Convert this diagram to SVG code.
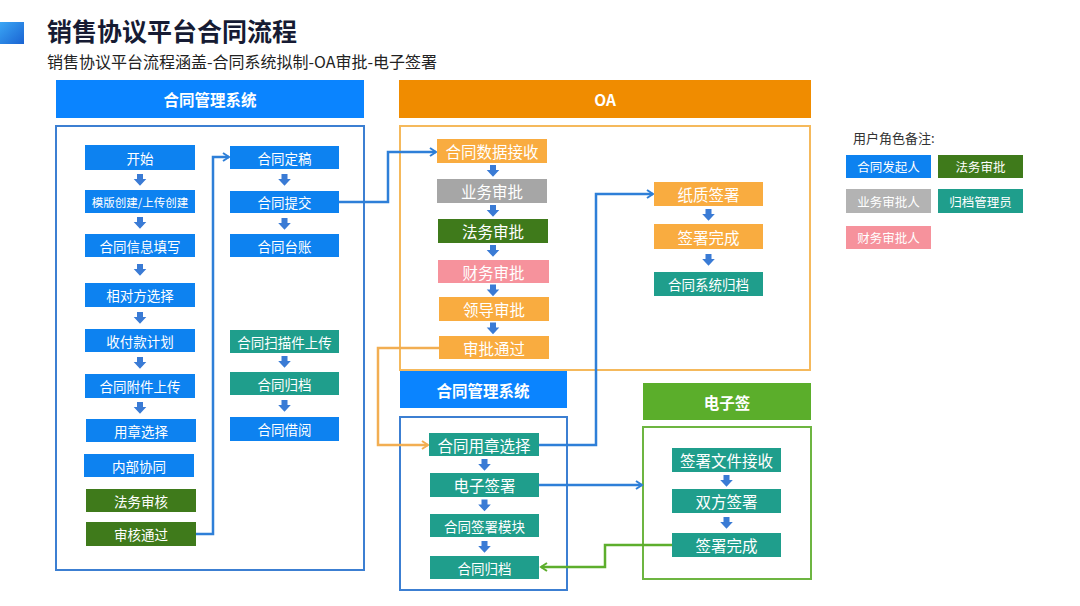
<svg xmlns="http://www.w3.org/2000/svg" width="1080" height="606" viewBox="0 0 1080 606">
<defs>
<linearGradient id="sq" x1="0" y1="0" x2="1" y2="1"><stop offset="0" stop-color="#3AA6F5"/><stop offset="1" stop-color="#1A63D2"/></linearGradient>
<path id="dn" d="M-3,0 h6 v5 h3.3 l-6.3,6.8 l-6.3,-6.8 h3.3 z" fill="#3A7BD5"/>
<marker id="mb" markerWidth="10" markerHeight="10" refX="8" refY="5" orient="auto" markerUnits="userSpaceOnUse"><path d="M2,1 L8,5 L2,9" fill="none" stroke="#2E7FD8" stroke-width="2"/></marker>
<marker id="mo" markerWidth="10" markerHeight="10" refX="8" refY="5" orient="auto" markerUnits="userSpaceOnUse"><path d="M2,1 L8,5 L2,9" fill="none" stroke="#F2AE52" stroke-width="2"/></marker>
<marker id="mg" markerWidth="10" markerHeight="10" refX="8" refY="5" orient="auto" markerUnits="userSpaceOnUse"><path d="M2,1 L8,5 L2,9" fill="none" stroke="#5DAE2C" stroke-width="2"/></marker>
</defs>
<style>
text{font-family:"Noto Sans CJK SC","Noto Sans",sans-serif;}
.t{fill:#fff;text-anchor:middle;dominant-baseline:central;font-size:13.5px;}
.t16{fill:#fff;text-anchor:middle;dominant-baseline:central;font-size:15.5px;}
.t12{fill:#fff;text-anchor:middle;dominant-baseline:central;font-size:12.5px;}
.h{fill:#fff;text-anchor:middle;dominant-baseline:central;font-size:15.5px;font-weight:bold;}
.blue{fill:#0D82F0;}
.green{fill:#3F7A1B;}
.teal{fill:#1F9E8C;}
.orange{fill:#F9AC40;}
.gray{fill:#A6A6A6;}
.pink{fill:#F6929C;}
.line{fill:none;stroke-width:2.5;stroke-linejoin:miter;}
</style>
<rect width="1080" height="606" fill="#fff"/>
<rect x="0" y="22" width="24" height="22" fill="url(#sq)"/>
<text x="47" y="41" font-size="25" font-weight="bold" fill="#161B33">销售协议平台合同流程</text>
<text x="47" y="68" font-size="16" fill="#222">销售协议平台流程涵盖-合同系统拟制-OA审批-电子签署</text>

<!-- section headers and frames -->
<g id="sec-cms">
<rect x="56" y="80" width="308" height="38" fill="#0A84FF"/>
<text class="h" x="210" y="99">合同管理系统</text>
<rect x="56" y="126" width="308" height="444" fill="none" stroke="#3C7FD2" stroke-width="2"/>
</g>
<g id="sec-oa">
<rect x="399" y="80" width="412" height="38" fill="#F08C00"/>
<text class="h" x="605" y="99">OA</text>
<rect x="400" y="126" width="410" height="244" fill="none" stroke="#F5B95C" stroke-width="2"/>
</g>
<g id="sec-cms2">
<rect x="400" y="371" width="167" height="37" fill="#0A84FF"/>
<text class="h" x="483" y="389.5">合同管理系统</text>
<rect x="400" y="417" width="167" height="173" fill="none" stroke="#3C7FD2" stroke-width="2"/>
</g>
<g id="sec-esign">
<rect x="643" y="383" width="168" height="37" fill="#5BAE2B"/>
<text class="h" x="727" y="401.5">电子签</text>
<rect x="643" y="427" width="168" height="152" fill="none" stroke="#6DB541" stroke-width="2"/>
</g>

<!-- connectors -->
<g id="connectors">
<path class="line" d="M196,534 H213 V157 H229" stroke="#2E7FD8" marker-end="url(#mb)"/>
<path class="line" d="M339,202 H388 V152 H436" stroke="#2E7FD8" marker-end="url(#mb)"/>
<path class="line" d="M439,348 H378 V445 H428" stroke="#F2AE52" stroke-width="2" marker-end="url(#mo)"/>
<path class="line" d="M538,445 H596 V194 H653" stroke="#2E7FD8" marker-end="url(#mb)"/>
<path class="line" d="M539,485 H642" stroke="#2E7FD8" stroke-width="2" marker-end="url(#mb)"/>
<path class="line" d="M672,545 H605 V567 H541" stroke="#5DAE2C" marker-end="url(#mg)"/>
<use href="#dn" x="140" y="174"/>
<use href="#dn" x="140" y="217"/>
<use href="#dn" x="140" y="264"/>
<use href="#dn" x="140" y="312"/>
<use href="#dn" x="140" y="357"/>
<use href="#dn" x="140" y="402"/>
<use href="#dn" x="284.5" y="174"/>
<use href="#dn" x="284.5" y="218"/>
<use href="#dn" x="284.5" y="356"/>
<use href="#dn" x="284.5" y="400"/>
<use href="#dn" x="493" y="165"/>
<use href="#dn" x="493" y="205"/>
<use href="#dn" x="493" y="245"/>
<use href="#dn" x="493" y="284.5"/>
<use href="#dn" x="493" y="322.5"/>
<use href="#dn" x="708.5" y="209"/>
<use href="#dn" x="708.5" y="254"/>
<use href="#dn" x="484.5" y="459"/>
<use href="#dn" x="484.5" y="499.5"/>
<use href="#dn" x="484.5" y="541"/>
<use href="#dn" x="726.5" y="475"/>
<use href="#dn" x="726.5" y="517"/>
</g>

<!-- left column -->
<g id="n-start"><rect class="blue" x="85" y="145" width="110" height="25"/><text class="t" x="140" y="157.5">开始</text></g>
<g id="n-template"><rect class="blue" x="85" y="190" width="110" height="23"/><text class="t" x="140" y="201.5" style="font-size:11.5px">模版创建/上传创建</text></g>
<g id="n-info"><rect class="blue" x="85" y="234" width="110" height="23"/><text class="t" x="140" y="245.5">合同信息填写</text></g>
<g id="n-party"><rect class="blue" x="85" y="283" width="110" height="24"/><text class="t" x="140" y="295">相对方选择</text></g>
<g id="n-pay"><rect class="blue" x="85" y="329" width="110" height="23"/><text class="t" x="140" y="340.5">收付款计划</text></g>
<g id="n-attach"><rect class="blue" x="85" y="374" width="110" height="24"/><text class="t" x="140" y="386">合同附件上传</text></g>
<g id="n-seal"><rect class="blue" x="86" y="419" width="110" height="23"/><text class="t" x="141" y="430.5">用章选择</text></g>
<g id="n-collab"><rect class="blue" x="84" y="454" width="110" height="23"/><text class="t" x="139" y="465.5">内部协同</text></g>
<g id="n-legal"><rect class="green" x="86" y="489" width="110" height="23"/><text class="t" x="141" y="500.5">法务审核</text></g>
<g id="n-pass"><rect class="green" x="86" y="522" width="110" height="24"/><text class="t" x="141" y="534">审核通过</text></g>

<!-- middle column -->
<g id="n-final"><rect class="blue" x="230" y="146" width="109" height="23"/><text class="t" x="284.5" y="157.5">合同定稿</text></g>
<g id="n-submit"><rect class="blue" x="230" y="191" width="109" height="22"/><text class="t" x="284.5" y="202">合同提交</text></g>
<g id="n-ledger"><rect class="blue" x="230" y="234" width="109" height="23"/><text class="t" x="284.5" y="245.5">合同台账</text></g>
<g id="n-scan"><rect class="teal" x="230" y="330" width="109" height="23"/><text class="t" x="284.5" y="341.5">合同扫描件上传</text></g>
<g id="n-archive"><rect class="teal" x="230" y="372" width="109" height="23"/><text class="t" x="284.5" y="383.5">合同归档</text></g>
<g id="n-borrow"><rect class="blue" x="230" y="417" width="109" height="24"/><text class="t" x="284.5" y="429">合同借阅</text></g>

<!-- OA -->
<g id="n-receive"><rect class="orange" x="437" y="139" width="110" height="24"/><text class="t16" x="492" y="151">合同数据接收</text></g>
<g id="n-biz"><rect class="gray" x="437" y="179" width="110" height="24"/><text class="t16" x="492" y="191">业务审批</text></g>
<g id="n-law"><rect class="green" x="438" y="219" width="110" height="24"/><text class="t16" x="493" y="231">法务审批</text></g>
<g id="n-fin"><rect class="pink" x="438" y="260" width="111" height="23"/><text class="t16" x="493.5" y="271.5">财务审批</text></g>
<g id="n-lead"><rect class="orange" x="439" y="297" width="110" height="24"/><text class="t16" x="494" y="309">领导审批</text></g>
<g id="n-approved"><rect class="orange" x="439" y="336" width="110" height="23"/><text class="t16" x="494" y="347.5">审批通过</text></g>
<g id="n-paper"><rect class="orange" x="654" y="182" width="109" height="24"/><text class="t16" x="708.5" y="194">纸质签署</text></g>
<g id="n-signdone"><rect class="orange" x="654" y="224" width="109" height="25"/><text class="t16" x="708.5" y="236.5">签署完成</text></g>
<g id="n-sysarch"><rect class="teal" x="654" y="272" width="109" height="24"/><text class="t" x="708.5" y="284">合同系统归档</text></g>

<!-- bottom CMS -->
<g id="n-sealsel"><rect class="teal" x="429" y="433" width="110" height="23"/><text class="t16" x="484" y="444.5">合同用章选择</text></g>
<g id="n-esign"><rect class="teal" x="430" y="473" width="109" height="24"/><text class="t16" x="484.5" y="485">电子签署</text></g>
<g id="n-module"><rect class="teal" x="430" y="514" width="109" height="23"/><text class="t" x="484.5" y="525.5">合同签署模块</text></g>
<g id="n-arch2"><rect class="teal" x="430" y="556" width="109" height="23"/><text class="t" x="484.5" y="567.5">合同归档</text></g>

<!-- e-sign -->
<g id="n-filerecv"><rect class="teal" x="672" y="448" width="109" height="24"/><text class="t16" x="726.5" y="460">签署文件接收</text></g>
<g id="n-both"><rect class="teal" x="672" y="489" width="109" height="24"/><text class="t16" x="726.5" y="501">双方签署</text></g>
<g id="n-done2"><rect class="teal" x="672" y="533" width="109" height="24"/><text class="t16" x="726.5" y="545">签署完成</text></g>

<!-- legend -->
<g id="legend">
<text x="853" y="143" font-size="13" fill="#333">用户角色备注:</text>
<rect class="blue" x="846" y="155" width="85" height="23"/><text class="t12" x="888.5" y="166.5">合同发起人</text>
<rect class="green" x="938" y="155" width="85" height="23"/><text class="t12" x="980.5" y="166.5">法务审批</text>
<rect x="846" y="189" width="85" height="24" fill="#B3B3B3"/><text class="t12" x="888.5" y="201">业务审批人</text>
<rect class="teal" x="938" y="189" width="85" height="24"/><text class="t12" x="980.5" y="201">归档管理员</text>
<rect class="pink" x="846" y="226" width="85" height="23"/><text class="t12" x="888.5" y="237.5">财务审批人</text>
</g>
</svg>
